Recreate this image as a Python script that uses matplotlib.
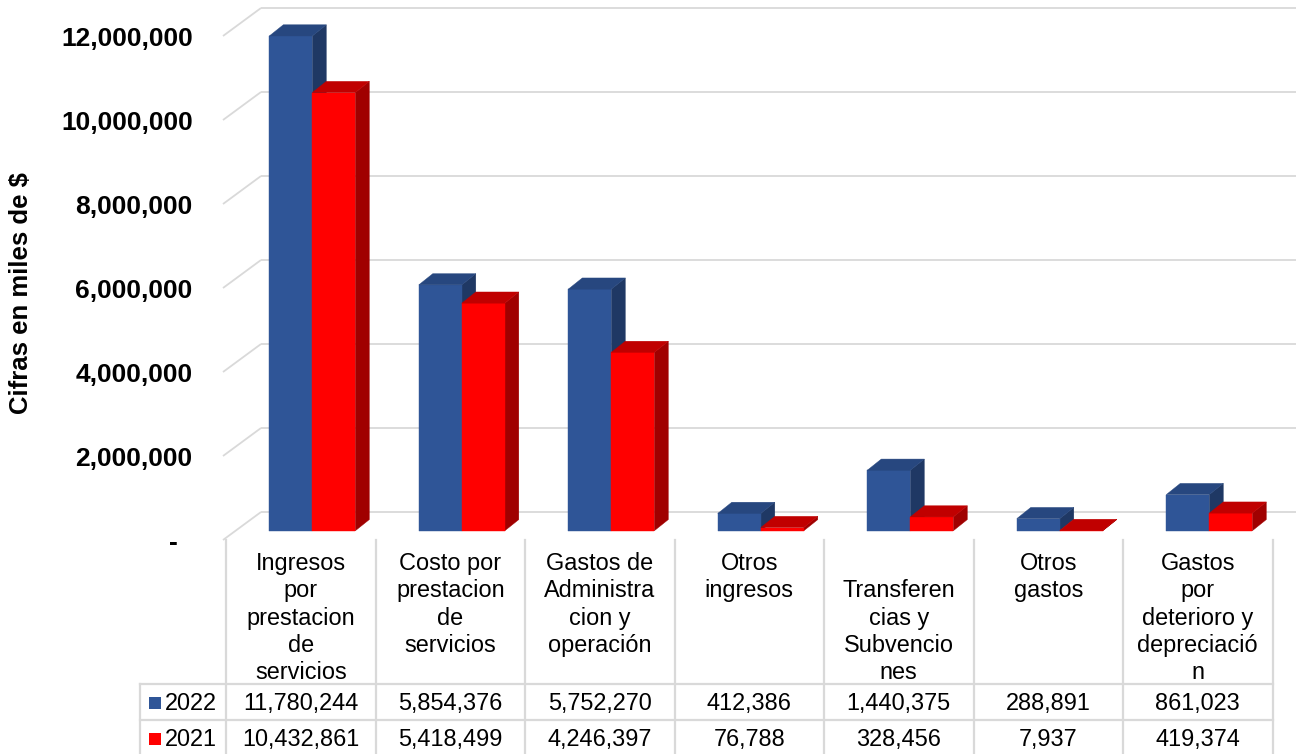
import matplotlib
matplotlib.use("Agg")
import matplotlib.pyplot as plt
from matplotlib.patches import Polygon, Rectangle
from matplotlib.ticker import FuncFormatter

plt.rcParams['font.family'] = ['Liberation Sans', 'DejaVu Sans']

# ---------------- data ----------------
categories = [
    "Ingresos\npor\nprestacion\nde\nservicios",
    "Costo por\nprestacion\nde\nservicios",
    "Gastos de\nAdministra\ncion y\noperación",
    "Otros\ningresos",
    "\nTransferen\ncias y\nSubvencio\nnes",
    "Otros\ngastos",
    "Gastos\npor\ndeterioro y\ndepreciació\nn",
]
series_names = ["2022", "2021"]
values_2022 = [11780244, 5854376, 5752270, 412386, 1440375, 288891, 861023]
values_2021 = [10432861, 5418499, 4246397, 76788, 328456, 7937, 419374]
y_ticks = [0, 2000000, 4000000, 6000000, 8000000, 10000000, 12000000]
y_label = "Cifras en miles de $"

# ---------------- style ----------------
front_colors = ["#2F5597", "#FF0000"]
top_colors = ["#27477F", "#C00000"]
side_colors = ["#1F3864", "#A00000"]
grid_color = "#D9D9D9"
table_line = "#D9D9D9"

W, H = 1296, 754
fig = plt.figure(figsize=(W / 100, H / 100), dpi=100)
ax_left, ax_bottom_px, ax_w, ax_h = 226, 540, 1070, 540
ax = fig.add_axes([ax_left / W, (H - ax_bottom_px) / H, ax_w / W, ax_h / H])

PXC = 149.5          # pixels per category
PYV = 42 / 1e6       # pixels per unit value
ax.set_xlim(-0.5, -0.5 + ax_w / PXC)
ax.set_ylim(0, ax_h / PYV)

def dxp(px):
    return px / PXC

def dyp(px):
    return px / PYV

# depth of the 3D box (oblique projection)
DX, DY = dxp(35), dyp(28)
f0, f1 = 0.33, 0.73
bw = dxp(43)

for sp in ax.spines.values():
    sp.set_visible(False)
ax.set_xticks([])
ax.set_yticks(y_ticks)

def fmt(v, pos):
    if v == 0:
        return "-  "
    return f"{int(v):,}"

ax.yaxis.set_major_formatter(FuncFormatter(fmt))
ax.tick_params(axis='y', length=0, pad=24, labelsize=19)
for lab in ax.get_yticklabels():
    lab.set_fontweight('bold')

ax.set_ylabel(y_label, fontsize=18.5, fontweight='bold', va='center')
ax.yaxis.set_label_coords((21 - ax_left) / ax_w, (ax_bottom_px - 293) / ax_h)

# walls: gridlines
x_wall_front = -0.5 - dxp(3)
x_wall_back = -0.5 + DX
x_right = ax.get_xlim()[1]
for v in y_ticks:
    ax.plot([x_wall_front, x_wall_back], [v, v + DY], color=grid_color, lw=1.3,
            zorder=1, clip_on=False, solid_capstyle='butt')
    ax.plot([x_wall_back, x_right], [v + DY, v + DY], color=grid_color, lw=1.3,
            zorder=1, clip_on=False, solid_capstyle='butt')

# 3D bars
ox, oy = f0 * DX, f0 * DY
ddx, ddy = (f1 - f0) * DX, (f1 - f0) * DY
for s, vals in enumerate([values_2022, values_2021]):
    for i, v in enumerate(vals):
        x0 = i + ox - bw + s * bw
        x1 = x0 + bw
        y0 = oy
        y1 = oy + v
        front = Rectangle((x0, y0), bw, v, facecolor=front_colors[s],
                          edgecolor=front_colors[s], lw=0.3, zorder=3 + s * 3)
        side = Polygon([(x1, y0), (x1 + ddx, y0 + ddy), (x1 + ddx, y1 + ddy), (x1, y1)],
                       closed=True, facecolor=side_colors[s], edgecolor=side_colors[s],
                       lw=0.3, zorder=3 + s * 3)
        top = Polygon([(x0, y1), (x0 + ddx, y1 + ddy), (x1 + ddx, y1 + ddy), (x1, y1)],
                      closed=True, facecolor=top_colors[s], edgecolor=top_colors[s],
                      lw=0.3, zorder=4 + s * 3)
        ax.add_patch(side)
        ax.add_patch(front)
        ax.add_patch(top)

# ---------------- data table ----------------
tr = ax.get_xaxis_transform()

def yax(px):
    # pixel row (from top of figure) -> axes fraction
    return (ax_bottom_px - px) / ax_h

n = len(categories)
legend_left = -0.5 - dxp(86)
for k in range(n + 1):
    ax.plot([-0.5 + k, -0.5 + k], [yax(540), yax(754)], color=table_line, lw=1.6,
            transform=tr, clip_on=False)
ax.plot([legend_left, legend_left], [yax(684), yax(754)], color=table_line, lw=1.6,
        transform=tr, clip_on=False)
for yp in [684, 720]:
    ax.plot([legend_left, -0.5 + n], [yax(yp), yax(yp)], color=table_line, lw=1.6,
            transform=tr, clip_on=False)

for i, c in enumerate(categories):
    ax.text(i, yax(552), c, transform=tr, ha='center', va='top', fontsize=16.9,
            linespacing=1.24, clip_on=False)

row_baselines = [710, 746]
for s, vals in enumerate([values_2022, values_2021]):
    for i, v in enumerate(vals):
        ax.text(i, yax(row_baselines[s]), f"{v:,}", transform=tr, ha='center',
                va='baseline', fontsize=16.9, clip_on=False)
    sq_x = -0.5 - dxp(77)
    ax.add_patch(Rectangle((sq_x, yax(row_baselines[s] - 1)), dxp(12), 12 / ax_h,
                           transform=tr, facecolor=front_colors[s], edgecolor='none',
                           clip_on=False))
    ax.text(-0.5 - dxp(61), yax(row_baselines[s]), series_names[s], transform=tr,
            ha='left', va='baseline', fontsize=16.9, clip_on=False)

fig.savefig("out.png", dpi=100)
